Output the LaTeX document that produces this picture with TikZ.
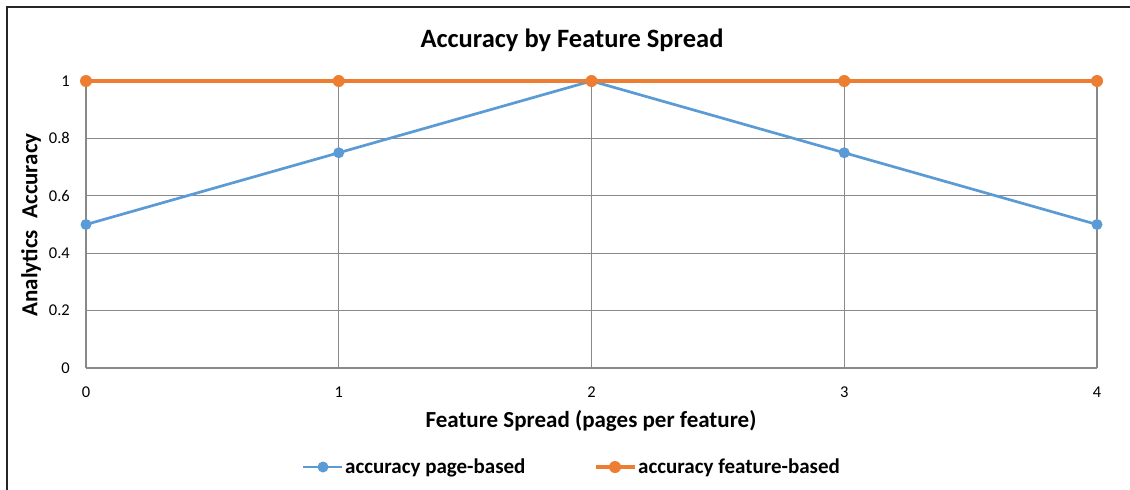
\documentclass[tikz,border=0pt]{standalone}
\usepackage{fontspec}
\setmainfont{Carlito}
\definecolor{serblue}{HTML}{5B9BD5}
\definecolor{serorange}{HTML}{ED7D31}
\definecolor{gridgray}{HTML}{898989}
\begin{document}
\begin{tikzpicture}[x=1pt,y=-1pt,
  gridline/.style={draw=gridgray,line width=1.1pt},
  ticklab/.style={font=\fontsize{16.5}{16.5}\selectfont,inner sep=0pt},
  bluedot/.style={circle,fill=serblue,inner sep=0pt,minimum size=11pt},
  orangedot/.style={circle,fill=serorange,inner sep=0pt,minimum size=12pt},
  blueline/.style={draw=serblue,line width=2.7pt},
  orangeline/.style={draw=serorange,line width=4.5pt},
  titletext/.style={font=\bfseries\fontsize{26.5}{26.5}\selectfont},
  axtitle/.style={font=\bfseries\fontsize{23}{23}\selectfont},
  legtext/.style={font=\bfseries\fontsize{21}{21}\selectfont,anchor=west,inner sep=0pt}]
\useasboundingbox (0,0) rectangle (1130,490);
\fill[white] (0,0) rectangle (1130,490);
% frame
\draw[line width=2.2pt,draw=black!85] (7,490) -- (7,7) -- (1130,7);
% horizontal grid
\foreach \yy in {310.6,253.2,195.8,138.4}{
  \draw[gridline] (86,\yy) -- (1097,\yy);
}
\foreach \xx in {86,338.75,591.5,844.25,1097}{
  \draw[gridline] (\xx,81) -- (\xx,368);
}
\draw[gridline] (86,368) -- (1097,368);
% tick labels
\node[ticklab,anchor=east] (y0) at (70,368) {0};
\node[ticklab,anchor=east] (y02) at (70,310.6) {0.2};
\node[ticklab,anchor=east] (y04) at (70,253.2) {0.4};
\node[ticklab,anchor=east] (y06) at (70,195.8) {0.6};
\node[ticklab,anchor=east] (y08) at (70,138.4) {0.8};
\node[ticklab,anchor=east] (y1) at (70,81) {1};
\node[ticklab] (x0) at (86,392) {0};
\node[ticklab] (x1) at (338.75,392) {1};
\node[ticklab] (x2) at (591.5,392) {2};
\node[ticklab] (x3) at (844.25,392) {3};
\node[ticklab] (x4) at (1097,392) {4};
% titles
\node[titletext] (title) at (572,40) {Accuracy by Feature Spread};
\node[axtitle,rotate=90] (ytitle) at (31,225) {Analytics\hspace{0.5em}Accuracy};
\node[axtitle] (xtitle) at (591,421) {Feature Spread (pages per feature)};
% blue series
\node[bluedot] (b0) at (86,224.5) {};
\node[bluedot] (b1) at (338.75,152.75) {};
\node[bluedot] (b2) at (591.5,81) {};
\node[bluedot] (b3) at (844.25,152.75) {};
\node[bluedot] (b4) at (1097,224.5) {};
\draw[blueline] (b0.center) -- (b1.center) -- (b2.center) -- (b3.center) -- (b4.center);
% orange series
\draw[orangeline] (86,81) -- (1097,81);
\node[orangedot] (o0) at (86,81) {};
\node[orangedot] (o1) at (338.75,81) {};
\node[orangedot] (o2) at (591.5,81) {};
\node[orangedot] (o3) at (844.25,81) {};
\node[orangedot] (o4) at (1097,81) {};
% legend
\coordinate (lb1) at (303,467);
\coordinate (lb2) at (342,467);
\draw[blueline] (lb1) -- (lb2);
\node[bluedot] (lbd) at (323,467) {};
\node[legtext] (lbt) at (345,468) {accuracy page-based};
\coordinate (lo1) at (596,467);
\coordinate (lo2) at (635,467);
\draw[orangeline] (lo1) -- (lo2);
\node[orangedot] (lod) at (615,467) {};
\node[legtext] (lot) at (638,468) {accuracy feature-based};
\end{tikzpicture}
\end{document}
